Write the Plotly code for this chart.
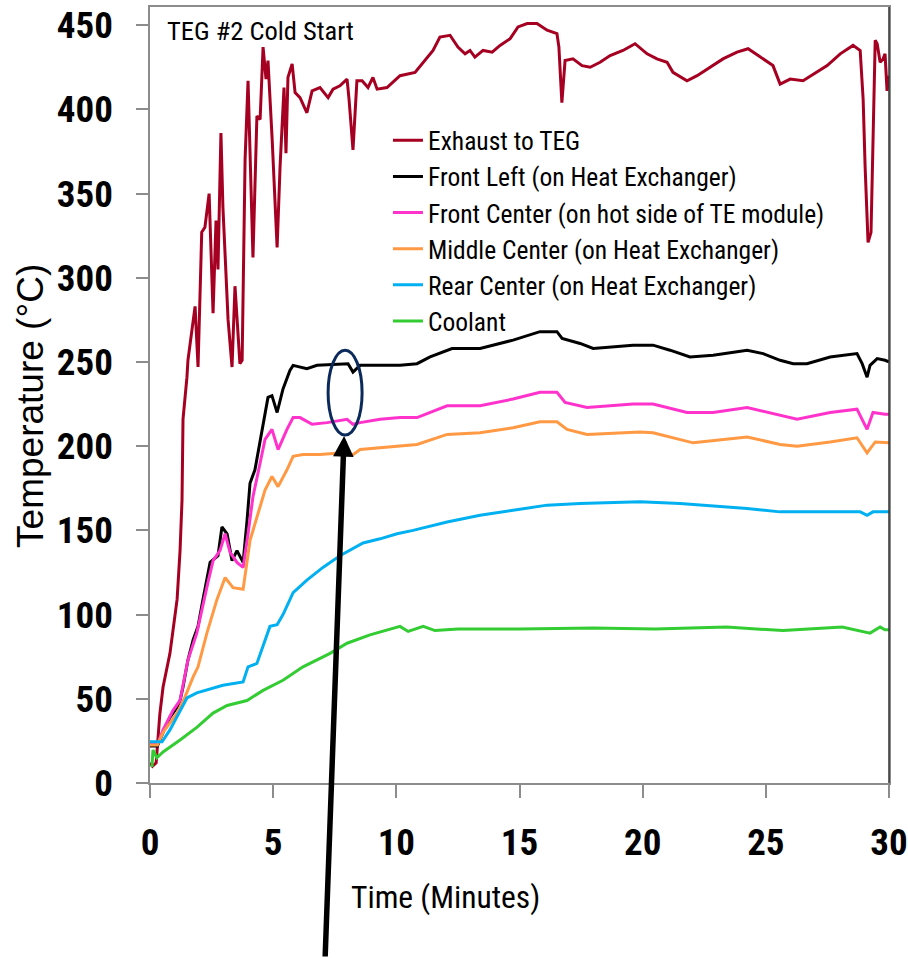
import plotly.graph_objects as go

NARROW = "Roboto Condensed, Liberation Sans, Arial, sans-serif"
REG = "Liberation Sans, Arial, sans-serif"

# ---------------- data (time in minutes, temperature in °C) ----------------
exhaust_t = [0.0, 0.1, 0.25, 0.4, 0.53, 0.81, 1.1, 1.22, 1.3, 1.34, 1.5, 1.54, 1.83, 1.95, 2.1, 2.23, 2.4,
             2.56, 2.68, 2.76, 2.88, 2.96, 3.17, 3.33, 3.45, 3.65, 3.74, 3.86, 3.98, 4.18, 4.34, 4.47,
             4.59, 4.71, 4.79, 4.96, 5.16, 5.28, 5.44, 5.52, 5.6, 5.77, 5.89, 6.09, 6.37, 6.58, 6.9,
             7.23, 7.43, 7.71, 8.0, 8.08, 8.24, 8.4, 8.61, 8.85, 9.05, 9.22, 9.62, 10.15, 10.76, 11.09,
             11.49, 11.77, 12.18, 12.5, 12.79, 12.99, 13.19, 13.52, 13.89, 14.21, 14.62, 14.94, 15.31,
             15.71, 16.12, 16.52, 16.6, 16.72, 16.85, 17.17, 17.54, 17.87, 18.27, 18.68, 19.2, 19.69,
             20.18, 20.58, 20.99, 21.23, 21.8, 22.21, 22.62, 23.26, 23.83, 24.28, 24.69, 25.29, 25.58,
             25.99, 26.51, 27.08, 27.49, 28.02, 28.54, 28.83, 28.95, 29.03, 29.15, 29.27, 29.35, 29.44,
             29.52, 29.64, 29.76, 29.84, 29.92, 30.0]
exhaust_T = [12, 10, 12, 41, 57, 77, 109, 138, 168, 216, 241, 251, 283, 247, 327, 330, 350,
             279, 334, 305, 386, 342, 275, 247, 295, 249, 251, 370, 417, 312, 396, 394,
             437, 418, 429, 382, 318, 366, 413, 374, 419, 427, 410, 407, 398, 411, 413,
             407, 412, 414, 418, 406, 376, 417, 417, 413, 419, 412, 413, 420, 422, 428,
             435, 443, 444, 437, 433, 435, 431, 435, 434, 438, 442, 449, 451,
             451, 447, 445, 437, 404, 429, 430, 426, 425, 428, 432, 435, 439,
             433, 430, 428, 422, 417, 420, 424, 430, 434, 436, 432, 426, 415,
             418, 417, 422, 426, 433, 438, 435, 406, 366, 321, 327, 386, 441,
             439, 428, 430, 433, 411, 420]

front_left_t = [0.0, 0.3, 0.53, 0.81, 1.1, 1.22, 1.34, 1.54, 1.75, 1.95, 2.15, 2.44, 2.76, 2.92, 3.13,
                3.33, 3.53, 3.78, 3.94, 4.06, 4.26, 4.47, 4.79, 4.95, 5.16, 5.4, 5.68, 5.81, 6.37, 6.78,
                7.71, 8.04, 8.24, 8.53, 9.34, 10.15, 10.84, 11.37, 12.26, 13.4, 14.74, 15.83, 16.52,
                16.73, 17.46, 17.99, 19.61, 20.42, 21.11, 21.92, 22.86, 24.24, 24.89, 25.58, 26.11,
                26.67, 27.61, 28.7, 28.91, 29.11, 29.23, 29.52, 29.84, 30.0]
front_left_T = [22, 22, 30, 39, 45, 49, 57, 73, 85, 93, 109, 131, 135, 152, 148,
                132, 138, 131, 156, 178, 186, 204, 229, 230, 220, 234, 245, 248, 246, 248,
                249, 249, 244, 248, 248, 248, 249, 253, 258, 258, 263, 268, 268,
                264, 261, 258, 260, 260, 257, 253, 254, 257, 255, 251, 249,
                249, 253, 255, 249, 241, 248, 252, 251, 250]

front_center_t = [0.0, 0.3, 0.53, 0.93, 1.22, 1.54, 1.9, 2.1, 2.35, 2.56, 2.84, 3.05, 3.25, 3.53, 3.78,
                  3.98, 4.18, 4.47, 4.67, 4.95, 5.2, 5.56, 5.81, 6.09, 6.58, 7.19, 8.0, 8.24, 8.53,
                  9.34, 10.15, 10.84, 12.06, 13.4, 14.74, 15.83, 16.52, 16.85, 17.74, 19.61, 20.42,
                  21.8, 22.86, 24.24, 25.58, 26.27, 27.61, 28.7, 29.11, 29.35, 29.84, 30.0]
front_center_T = [23, 23, 31.5, 43, 49, 73, 89, 103, 119, 132, 138, 148, 137, 131, 128,
                  148, 170, 190, 204, 210, 198, 210, 217, 217, 213, 214, 216, 213, 214,
                  216, 217, 217, 224, 224, 228, 232, 232, 226, 223, 225, 225,
                  220, 220, 223, 218.5, 216, 220, 222, 210, 220, 219, 219]

middle_center_t = [0.0, 0.3, 0.53, 1.1, 1.42, 1.75, 1.95, 2.31, 2.72, 3.05, 3.37, 3.78, 4.06, 4.18,
                   4.67, 4.95, 5.2, 5.56, 5.81, 6.21, 6.9, 7.71, 8.24, 8.53, 9.34, 10.15, 10.84, 12.06,
                   13.4, 14.74, 15.83, 16.52, 16.93, 17.74, 19.89, 20.42, 22.05, 24.24, 25.58, 26.27,
                   27.61, 28.7, 29.11, 29.44, 29.84, 30.0]
middle_center_T = [22.5, 22.5, 30, 41.5, 51, 63, 69, 89, 109, 122, 116, 115, 144, 150,
                   174, 182, 176, 186, 194, 195, 195, 196, 195, 198, 199, 200, 201, 207,
                   208, 211, 214.5, 214.5, 210, 207, 208.5, 208, 202, 205.5, 201, 200,
                   202.5, 205, 196, 202.5, 202, 202]

rear_center_t = [0.0, 0.49, 0.81, 1.22, 1.5, 1.9, 2.44, 2.96, 3.78, 3.98, 4.34, 4.59, 4.87, 5.16, 5.4,
                 5.81, 6.37, 7.02, 7.71, 8.65, 9.34, 10.03, 10.68, 12.06, 13.4, 14.74, 16.12, 17.46,
                 19.89, 21.52, 22.86, 24.24, 25.58, 27.61, 28.83, 29.11, 29.35, 29.84, 30.0]
rear_center_T = [24.5, 24.5, 31.5, 43, 50.5, 53.5, 56, 58, 60, 69, 71, 81, 93, 94, 100,
                 113, 120.5, 128, 135, 142.5, 145, 148, 150, 155, 159, 162, 165, 166,
                 167, 166, 164.5, 163, 161, 161, 161, 159, 161, 161, 161]

coolant_t = [0.08, 0.12, 0.28, 0.53, 1.22, 1.9, 2.56, 3.13, 3.94, 4.59, 5.4, 6.21, 7.31, 8.0, 8.93,
             10.15, 10.48, 11.09, 11.57, 12.5, 15.0, 18.0, 20.5, 23.4, 25.7, 28.1, 29.23, 29.64,
             29.84, 30.0]
coolant_T = [9.5, 19.6, 15, 18.4, 25.5, 33, 41.5, 46, 49, 55, 61, 69, 77, 83, 88,
             93, 90, 93, 90.5, 91.5, 91.5, 92, 91.5, 92.6, 90.5, 92.6, 89, 92.6,
             91, 91]

series_names = ["Exhaust to TEG", "Front Left (on Heat Exchanger)",
                "Front Center (on hot side of TE module)", "Middle Center (on Heat Exchanger)",
                "Rear Center (on Heat Exchanger)", "Coolant"]
series_colors = ["#A50021", "#000000", "#FF33CC", "#FF9944", "#00B0F0", "#33CC33"]

x_ticks = [0, 5, 10, 15, 20, 25, 30]
y_ticks = [0, 50, 100, 150, 200, 250, 300, 350, 400, 450]

# highlight ellipse (data coordinates) and arrow tip
ellipse_t = [7.23, 8.61]
ellipse_T = [206.6, 257.0]
arrow_tip = (7.88, 206.0)

series = [(exhaust_t, exhaust_T), (front_left_t, front_left_T), (front_center_t, front_center_T),
          (middle_center_t, middle_center_T), (rear_center_t, rear_center_T), (coolant_t, coolant_T)]

fig = go.Figure()
for (tx, ty), name, col in zip(series, series_names, series_colors):
    fig.add_trace(go.Scatter(x=tx, y=ty, mode="lines", name=name,
                             line=dict(color=col, width=3)))

fig.update_layout(
    width=908, height=958,
    margin=dict(l=150, r=19, t=7, b=175),
    paper_bgcolor="white", plot_bgcolor="white",
    showlegend=True,
    legend=dict(x=0.322, y=0.858, xanchor="left", yanchor="top",
                font=dict(family=NARROW, size=25.5, color="black"),
                bgcolor="rgba(0,0,0,0)", borderwidth=0, tracegroupgap=0),
    font=dict(family=NARROW, color="black"),
)
fig.update_xaxes(range=[0, 30], tickvals=x_ticks, ticks="outside", ticklen=13, tickcolor="#8c8c8c",
                 tickwidth=1.5, showline=True, linecolor="#8c8c8c", linewidth=1.5, mirror=True,
                 showgrid=False, zeroline=False, ticklabeloverflow="allow", automargin=False,
                 tickfont=dict(family=NARROW, size=37, color="black", weight="bold"),
                 ticklabelstandoff=13)
fig.update_yaxes(range=[0, 460.8], tickvals=y_ticks, ticks="outside", ticklen=12, tickcolor="#8c8c8c",
                 tickwidth=1.5, showline=True, linecolor="#8c8c8c", linewidth=1.5, mirror=True,
                 showgrid=False, zeroline=False, ticklabeloverflow="allow", automargin=False,
                 tickfont=dict(family=NARROW, size=37, color="black", weight="bold"),
                 ticklabelstandoff=16)

# right frame edge slightly darker
fig.add_shape(type="line", xref="paper", yref="paper", x0=1, x1=1, y0=0, y1=1,
              line=dict(color="#333333", width=1.5))

# highlight ellipse
fig.add_shape(type="circle", xref="x", yref="y", x0=ellipse_t[0], x1=ellipse_t[1],
              y0=ellipse_T[0], y1=ellipse_T[1], line=dict(color="#0B2A5B", width=3))

# arrow
fig.add_annotation(x=arrow_tip[0], y=arrow_tip[1], xref="x", yref="y", text="",
                   showarrow=True, ax=-19, ay=523, arrowhead=2, arrowsize=0.75,
                   arrowwidth=5.5, arrowcolor="black")

# titles
fig.add_annotation(text="TEG #2 Cold Start", xref="paper", yref="paper", x=0.0203, y=0.970,
                   xanchor="left", yanchor="middle", showarrow=False,
                   font=dict(family=NARROW, size=26.5, color="black"))
fig.add_annotation(text="Temperature (°C)", xref="paper", yref="paper", x=-0.161, y=0.486,
                   xanchor="center", yanchor="middle", textangle=-90, showarrow=False,
                   font=dict(family=REG, size=37, color="black"))
fig.add_annotation(text="Time (Minutes)", xref="paper", yref="paper", x=0.4005, y=-0.148,
                   xanchor="center", yanchor="middle", showarrow=False,
                   font=dict(family=NARROW, size=31.5, color="black"))

fig.write_html("out.html")
